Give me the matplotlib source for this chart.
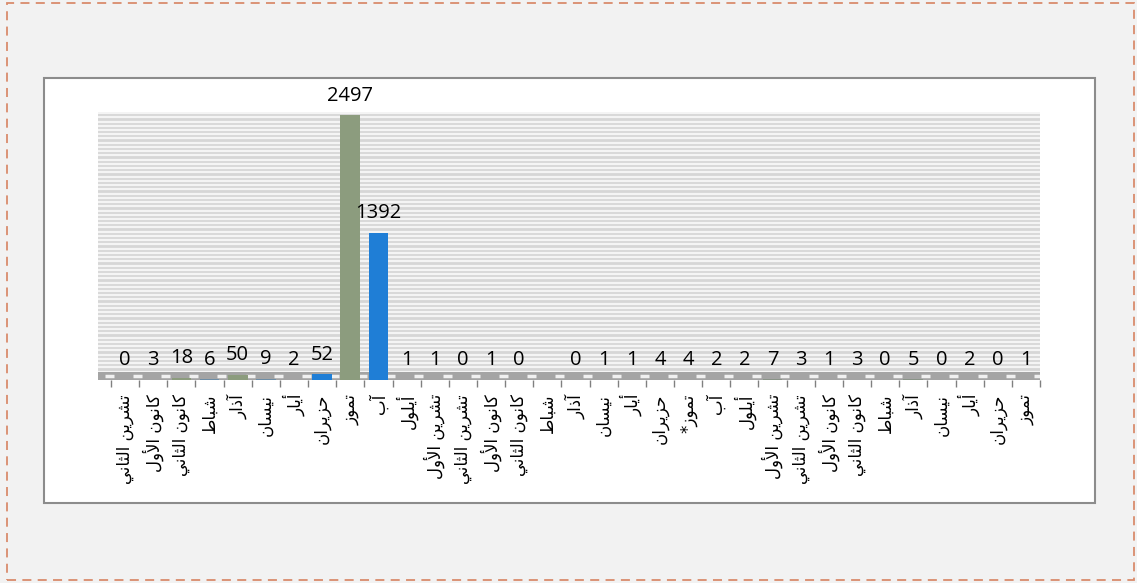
import matplotlib
matplotlib.use("Agg")
import matplotlib.pyplot as plt
from matplotlib.patches import Rectangle
import numpy as np

# ---------------- data ----------------
months = ["تشرين الثاني", "كانون الأول", "كانون الثاني", "شباط", "آذار", "نيسان", "أيار",
          "حزيران", "تموز", "آب", "أيلول", "تشرين الأول", "تشرين الثاني", "كانون الأول",
          "كانون الثاني", "شباط", "آذار", "نيسان", "أيار", "حزيران", "تموز*", "آب", "أيلول",
          "تشرين الأول", "تشرين الثاني", "كانون الأول", "كانون الثاني", "شباط", "آذار",
          "نيسان", "أيار", "حزيران", "تموز"]
values = [0, 3, 18, 6, 50, 9, 2, 52, 2497, 1392, 1, 1, 0, 1, 0, np.nan, 0, 1, 1, 4,
          4, 2, 2, 7, 3, 1, 3, 0, 5, 0, 2, 0, 1]

# ---------------- simple Arabic shaping (presentation forms + visual order) ----------------
FORMS = {
    '\u0627': ('\uFE8D', '\uFE8E', None, None),
    '\u0622': ('\uFE81', '\uFE82', None, None),
    '\u0623': ('\uFE83', '\uFE84', None, None),
    '\u0628': ('\uFE8F', '\uFE90', '\uFE91', '\uFE92'),
    '\u062A': ('\uFE95', '\uFE96', '\uFE97', '\uFE98'),
    '\u062B': ('\uFE99', '\uFE9A', '\uFE9B', '\uFE9C'),
    '\u062D': ('\uFEA1', '\uFEA2', '\uFEA3', '\uFEA4'),
    '\u0630': ('\uFEAB', '\uFEAC', None, None),
    '\u0631': ('\uFEAD', '\uFEAE', None, None),
    '\u0632': ('\uFEAF', '\uFEB0', None, None),
    '\u0633': ('\uFEB1', '\uFEB2', '\uFEB3', '\uFEB4'),
    '\u0634': ('\uFEB5', '\uFEB6', '\uFEB7', '\uFEB8'),
    '\u0637': ('\uFEC1', '\uFEC2', '\uFEC3', '\uFEC4'),
    '\u0643': ('\uFED9', '\uFEDA', '\uFEDB', '\uFEDC'),
    '\u0644': ('\uFEDD', '\uFEDE', '\uFEDF', '\uFEE0'),
    '\u0645': ('\uFEE1', '\uFEE2', '\uFEE3', '\uFEE4'),
    '\u0646': ('\uFEE5', '\uFEE6', '\uFEE7', '\uFEE8'),
    '\u0648': ('\uFEED', '\uFEEE', None, None),
    '\u064A': ('\uFEF1', '\uFEF2', '\uFEF3', '\uFEF4'),
}
LAM_ALEF = {'\u0627': ('\uFEFB', '\uFEFC'), '\u0623': ('\uFEF7', '\uFEF8'),
            '\u0622': ('\uFEF5', '\uFEF6')}


def shape(text):
    toks = []
    i = 0
    while i < len(text):
        c = text[i]
        if c == '\u0644' and i + 1 < len(text) and text[i + 1] in LAM_ALEF:
            iso, fin = LAM_ALEF[text[i + 1]]
            toks.append((iso, fin, None, None))
            i += 2
            continue
        toks.append(FORMS.get(c, c))
        i += 1
    out = []
    for k, t in enumerate(toks):
        if isinstance(t, str):
            out.append(t)
            continue
        prev = toks[k - 1] if k > 0 else None
        nxt = toks[k + 1] if k + 1 < len(toks) else None
        pj = prev is not None and not isinstance(prev, str) and prev[2] is not None
        nj = t[2] is not None and nxt is not None and not isinstance(nxt, str)
        if pj and nj:
            out.append(t[3])
        elif pj:
            out.append(t[1])
        elif nj:
            out.append(t[2])
        else:
            out.append(t[0])
    return ''.join(out)[::-1]


# ---------------- figure ----------------
W, H = 1137, 583
fig = plt.figure(figsize=(W / 100, H / 100), dpi=100, facecolor='#f2f2f2')

# dashed outer border
fig.patches.append(Rectangle((7 / W, 1 - 580 / H), 1127 / W, 577 / H, transform=fig.transFigure,
                             fill=False, edgecolor='#d98c6c', lw=1.3, linestyle=(0, (5, 3.5)),
                             zorder=-2))
# white inner chart box
fig.patches.append(Rectangle((44 / W, 1 - 503 / H), 1051 / W, 425 / H, transform=fig.transFigure,
                             facecolor='white', edgecolor='#8c8c8c', lw=1.5, zorder=-1))

x_left, x_right = 98, 1040
y_top, y_floor = 112, 380
ax = fig.add_axes([x_left / W, 1 - y_floor / H, (x_right - x_left) / W, (y_floor - y_top) / H])

n = len(months)
cat_w = (1040 - 111) / n
x = np.arange(n)
ax.set_xlim(-0.5 - (111 - x_left) / cat_w, n - 0.5)
ax.set_ylim(0, 2530)

ax.set_facecolor('#d6d6d6')
ax.set_yticks(np.arange(0, 2530, 40))
ax.yaxis.grid(True, color='#f4f4f4', lw=1.6)
ax.set_axisbelow(True)
ax.tick_params(axis='y', left=False, labelleft=False)
for s in ax.spines.values():
    s.set_visible(False)

# floor band with light dashes
ax.add_patch(Rectangle((0, 0.0), 1, 0.028, transform=ax.transAxes, facecolor='#a4a4a4',
                       edgecolor='none', zorder=1, clip_on=False))
bounds = np.arange(n + 1) - 0.5
ax.hlines(np.full(n + 1, 0.014 * 2530), bounds - 0.22, bounds + 0.1,
          colors='#f0f0f0', lw=2.5, zorder=1.5)

green = '#8c9c7e'
blue = '#1f7ed6'
bluegray = '#6f8ea6'
grey = '#8a9488'
colors = [green, green, green, bluegray, green, bluegray, bluegray, blue, green, blue] + [grey] * (n - 10)

vals = np.array(values, dtype=float)
bars = ax.bar(x, np.nan_to_num(vals), width=0.7, color=colors, zorder=2)

for xi, v in zip(x, vals):
    if np.isnan(v):
        continue
    ax.annotate(f"{int(v)}", (xi, v), xytext=(0, 7), textcoords='offset points',
                ha='center', va='bottom', fontsize=14.5, family='Open Sans', color='black',
                zorder=5)

# ticks: labels at centers, marks at boundaries
ax.set_xticks(x)
ax.set_xticklabels([shape(m) for m in months], rotation=90, fontsize=12,
                   family='DejaVu Sans', va='top', ha='center', color='black')
ax.tick_params(axis='x', which='major', length=0, pad=10)
ax.set_xticks(bounds, minor=True)
ax.tick_params(axis='x', which='minor', length=5, color='#808080', width=1)

fig.savefig('out.png', dpi=100, facecolor=fig.get_facecolor())
